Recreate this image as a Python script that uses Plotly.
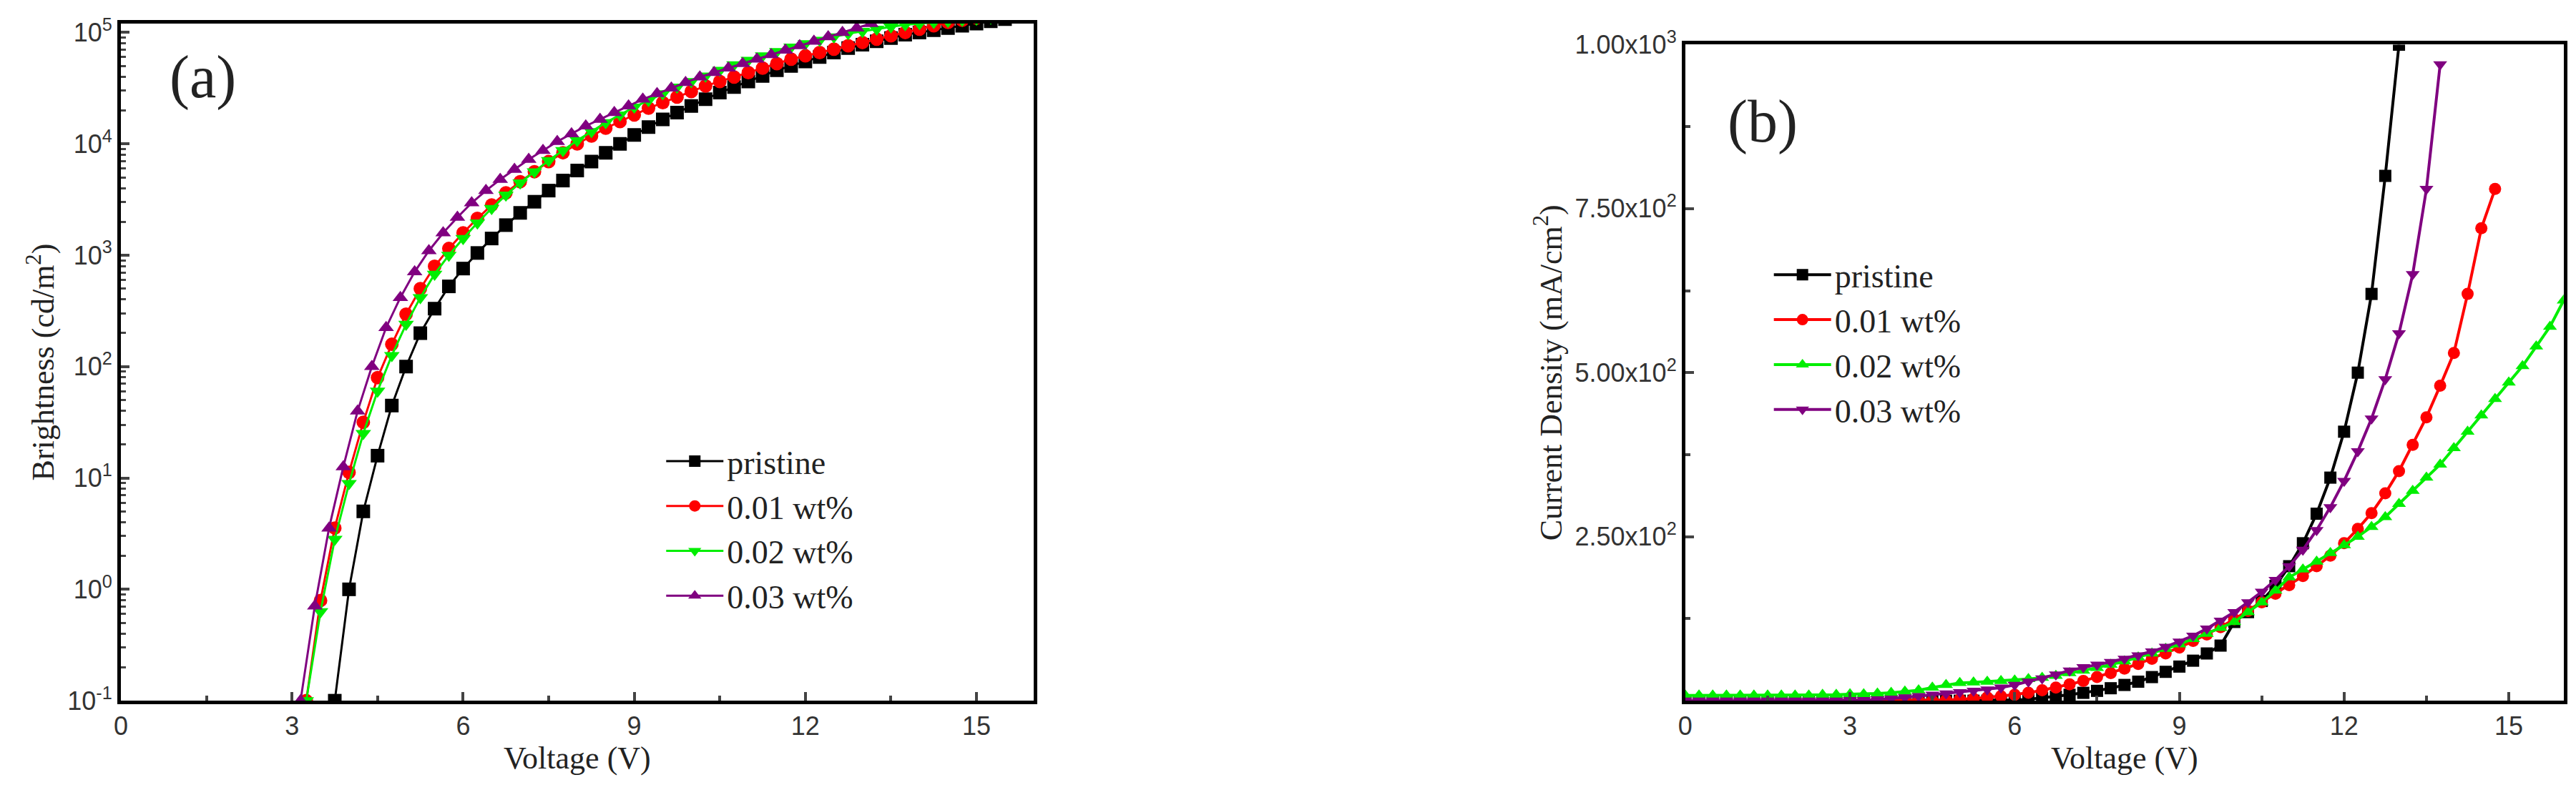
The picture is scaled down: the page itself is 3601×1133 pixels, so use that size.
import plotly.graph_objects as go

# ---- Panel (a): brightness (log10 cd/m2) vs voltage, 0.25 V steps ----
va_pristine = [3.75 + 0.25*i for i in range(50)]
la_pristine = [-1.0, 0.0, 0.7, 1.2, 1.65, 2.0, 2.3, 2.52, 2.72, 2.88, 3.02, 3.15, 3.27, 3.38, 3.48,
               3.58, 3.67, 3.76, 3.84, 3.92, 4.0, 4.08, 4.15, 4.22, 4.28, 4.34, 4.4, 4.46, 4.51, 4.56,
               4.61, 4.66, 4.7, 4.74, 4.78, 4.82, 4.86, 4.89, 4.92, 4.95, 4.98, 5.0, 5.02, 5.04, 5.06,
               5.08, 5.1, 5.12, 5.14, 5.16]
va_01 = [3.25 + 0.25*i for i in range(48)]
la_01 = [-1.0, -0.1, 0.55, 1.05, 1.5, 1.9, 2.2, 2.47, 2.7, 2.9, 3.06, 3.2, 3.33, 3.45, 3.56, 3.66,
         3.75, 3.84, 3.92, 4.0, 4.07, 4.14, 4.2, 4.26, 4.32, 4.37, 4.42, 4.47, 4.52, 4.56, 4.6, 4.64,
         4.68, 4.72, 4.76, 4.79, 4.82, 4.85, 4.88, 4.91, 4.94, 4.97, 5.0, 5.03, 5.06, 5.09, 5.11, 5.13]
va_02 = [3.25 + 0.25*i for i in range(52)]
la_02 = [-1.0, -0.2, 0.45, 0.95, 1.4, 1.78, 2.1, 2.38, 2.62, 2.83, 3.0, 3.15, 3.29, 3.42, 3.54, 3.65,
         3.75, 3.85, 3.94, 4.03, 4.11, 4.19, 4.26, 4.33, 4.39, 4.45, 4.51, 4.56, 4.61, 4.66, 4.71, 4.75,
         4.79, 4.83, 4.87, 4.9, 4.93, 4.96, 4.99, 5.01, 5.03, 5.05, 5.07, 5.08, 5.09, 5.1, 5.11, 5.12,
         5.13, 5.14, 5.15, 5.17]
va_03 = [3.15 + 0.25*i for i in range(44)]
la_03 = [-1.0, -0.15, 0.55, 1.1, 1.6, 2.0, 2.35, 2.62, 2.85, 3.04, 3.2, 3.34, 3.47, 3.58, 3.68, 3.77,
         3.86, 3.94, 4.02, 4.09, 4.16, 4.22, 4.28, 4.34, 4.4, 4.45, 4.5, 4.55, 4.6, 4.64, 4.68, 4.72,
         4.76, 4.8, 4.84, 4.88, 4.92, 4.96, 5.0, 5.04, 5.08, 5.12, 5.16, 5.2]

# ---- Panel (b): current density (mA/cm2) vs voltage, 0.25 V steps ----
vb_pristine = [0.25*i for i in range(53)]
jb_pristine = [0,0,0,0,0,0,0,0,0,0,0,0,0,0,0,0,0,0,0,0,0,0,0,0,1,2,4,6,9,12,15,19,24,29,36,44,
               52,61,72,84,120,135,152,175,205,240,285,340,410,500,620,800,1000]
vb_01 = [0.25*i for i in range(60)]
jb_01 = [0,0,0,0,0,0,0,0,0,0,0,0,0,0,0,0,0,0,0,1,2,3,5,7,9,12,16,20,25,30,36,42,49,56,64,72,
         81,91,101,112,124,137,150,163,176,190,205,221,240,262,286,316,350,390,432,480,530,620,720,780]
vb_02 = [0.25*i for i in range(65)]
jb_02 = [8,8,8,8,8,8,8,8,8,8,9,9,10,10,11,12,14,16,20,24,27,28,29,30,31,33,35,38,42,46,50,55,
         60,66,72,79,86,94,102,111,120,135,150,168,188,200,212,225,237,250,265,280,300,320,340,
         360,385,410,435,460,485,510,540,570,610]
vb_03 = [0.25*i for i in range(56)]
jb_03 = [0,0,0,0,0,0,0,0,0,0,0,0,1,1,2,3,5,7,9,11,13,15,17,20,24,29,34,40,46,51,55,59,
         64,69,75,82,90,99,110,122,135,150,166,184,205,230,260,295,335,380,430,490,560,650,780,970]

series = [
    ("pristine", "#000000", "square"),
    ("0.01 wt%", "#ff0000", "circle"),
    ("0.02 wt%", "#00ee00", "triangle-down"),
    ("0.03 wt%", "#800080", "triangle-up"),
]
series_b_sym = ["square", "circle", "triangle-up", "triangle-down"]
a_data = [(va_pristine, la_pristine), (va_01, la_01), (va_02, la_02), (va_03, la_03)]
b_data = [(vb_pristine, jb_pristine), (vb_01, jb_01), (vb_02, jb_02), (vb_03, jb_03)]

fig = go.Figure()
for (name, col, sym), (x, ly) in zip(series, a_data):
    fig.add_trace(go.Scatter(x=x, y=[10**v for v in ly], mode="lines+markers", name=name,
                             line=dict(color=col, width=3), marker=dict(symbol=sym, size=19, color=col),
                             xaxis="x", yaxis="y", legend="legend"))
for (name, col, _), sym, (x, y) in zip(series, series_b_sym, b_data):
    fig.add_trace(go.Scatter(x=x, y=y, mode="lines+markers", name=name,
                             line=dict(color=col, width=4), marker=dict(symbol=sym, size=17, color=col),
                             xaxis="x2", yaxis="y2", legend="legend2"))

tickfont = dict(family="Liberation Sans", size=36, color="#333")
titlefont = dict(family="Liberation Serif", size=44, color="#222")
common = dict(showline=True, linecolor="black", linewidth=5, mirror=True, ticks="inside",
              tickwidth=4, ticklen=12, tickfont=tickfont, showgrid=False, zeroline=False)

fig.update_layout(
    width=3601, height=1133, paper_bgcolor="white", plot_bgcolor="white",
    margin=dict(l=0, r=0, t=0, b=0, autoexpand=False),
    xaxis=dict(domain=[0.0447, 0.399], range=[0, 16], tickvals=[0, 3, 6, 9, 12, 15],
               minor=dict(tickvals=[1.5, 4.5, 7.5, 10.5, 13.5], ticks="inside", ticklen=7, tickwidth=4),
               title=dict(text="Voltage (V)", font=titlefont, standoff=8), anchor="y", **common),
    yaxis=dict(domain=[0.142, 0.978], type="log", range=[-1, 5.08],
               tickvals=[0.1, 1, 10, 100, 1000, 1e4, 1e5],
               ticktext=["10<sup>-1</sup>", "10<sup>0</sup>", "10<sup>1</sup>", "10<sup>2</sup>",
                         "10<sup>3</sup>", "10<sup>4</sup>", "10<sup>5</sup>"],
               minor=dict(ticks="inside", ticklen=7, tickwidth=3, dtick="D1"),
               title=dict(text="Brightness (cd/m<sup>2</sup>)", font=titlefont, standoff=6),
               anchor="x", **common),
    xaxis2=dict(domain=[0.652, 0.993], range=[0, 16], tickvals=[0, 3, 6, 9, 12, 15],
                minor=dict(tickvals=[1.5, 4.5, 7.5, 10.5, 13.5], ticks="inside", ticklen=7, tickwidth=4),
                title=dict(text="Voltage (V)", font=titlefont, standoff=8), anchor="y2", **common),
    yaxis2=dict(domain=[0.142, 0.952], range=[0, 1000], tickvals=[250, 500, 750, 1000],
                ticktext=["2.50x10<sup>2</sup>", "5.00x10<sup>2</sup>", "7.50x10<sup>2</sup>", "1.00x10<sup>3</sup>"],
                minor=dict(tickvals=[125, 375, 625, 875], ticks="inside", ticklen=7, tickwidth=4),
                title=dict(text="Current Density (mA/cm<sup>2</sup>)", font=titlefont, standoff=6),
                anchor="x2", **common),
    legend=dict(x=0.255, y=0.47, xanchor="left", yanchor="top", bgcolor="rgba(0,0,0,0)",
                font=dict(family="Liberation Serif", size=46, color="#222"), itemwidth=80, tracegroupgap=0),
    legend2=dict(x=0.685, y=0.7, xanchor="left", yanchor="top", bgcolor="rgba(0,0,0,0)",
                 font=dict(family="Liberation Serif", size=46, color="#222"), itemwidth=80, tracegroupgap=0),
    annotations=[
        dict(text="(a)", x=0.063, y=0.955, xref="paper", yref="paper", xanchor="left", yanchor="top",
             showarrow=False, font=dict(family="Liberation Serif", size=84, color="#222")),
        dict(text="(b)", x=0.668, y=0.9, xref="paper", yref="paper", xanchor="left", yanchor="top",
             showarrow=False, font=dict(family="Liberation Serif", size=84, color="#222")),
    ],
)
fig.write_html("out.html")
